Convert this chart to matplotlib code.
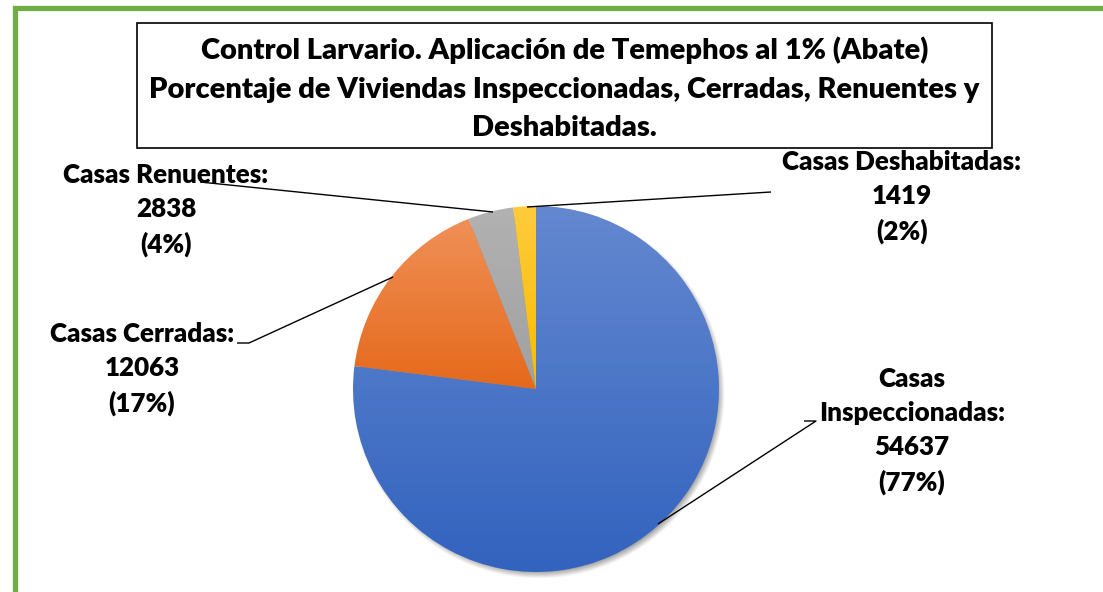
import numpy as np
import matplotlib
matplotlib.use("Agg")
import matplotlib.pyplot as plt
from matplotlib.patches import Rectangle
from matplotlib.colors import to_rgb

plt.rcParams['font.family'] = ['Lato', 'DejaVu Sans']

# data
categorias = ['Casas Inspeccionadas', 'Casas Cerradas', 'Casas Renuentes', 'Casas Deshabitadas']
valores = [54637, 12063, 2838, 1419]
porcentajes = [77, 17, 4, 2]
titulo = ('Control Larvario. Aplicación de Temephos al 1% (Abate)\n'
          'Porcentaje de Viviendas Inspeccionadas, Cerradas, Renuentes y\n'
          'Deshabitadas.')

# gradient colours (top, bottom) per slice
grad = [('#6488d0', '#3263be'),
        ('#f09058', '#e5691b'),
        ('#b2b2b2', '#a0a0a0'),
        ('#ffcb3c', '#f8bc00')]

W, H = 1103, 592
cx, cy, R = 536, 389, 183

fig = plt.figure(figsize=(W / 100, H / 100), dpi=100)
ax = fig.add_axes([0, 0, 1, 1])


def px(x, y):
    # pixel position -> data units (pie radius = 1)
    return (x - cx) / R, (cy - y) / R


# shadow under the pie
gx = np.linspace(-1.2, 1.2, 400)
gy = np.linspace(-1.2, 1.2, 400)
XX, YY = np.meshgrid(gx, gy)
d = np.hypot(XX - 3 / R, YY + 4 / R)
alpha = 0.45 * np.clip((1.0 + 3 / R - d) / (9 / R), 0, 1)
sh = np.zeros((400, 400, 4))
sh[..., 3] = alpha
ax.imshow(sh, extent=(-1.2, 1.2, -1.2, 1.2), origin='lower', zorder=1, interpolation='bilinear')

wedges, _ = ax.pie(valores, startangle=90, counterclock=False, radius=1,
                   wedgeprops=dict(linewidth=0))
for w, (c1, c2) in zip(wedges, grad):
    w.set_facecolor('none')
    w.set_zorder(2)
    bb = w.get_path().get_extents()
    t = np.linspace(0, 1, 256)[:, None]
    img = (1 - t) * np.array(to_rgb(c1)) + t * np.array(to_rgb(c2))
    img = img[:, None, :]
    im = ax.imshow(img, extent=(bb.x0, bb.x1, bb.y0, bb.y1), origin='upper',
                   aspect='auto', zorder=3, interpolation='bilinear')
    im.set_clip_path(w)

ax.set_xlim(-cx / R, (W - cx) / R)
ax.set_ylim(-(H - cy) / R, cy / R)
ax.set_aspect('auto')
ax.axis('off')

# leader lines
lineas = [
    [(804, 421), (816, 421), (658, 524)],
    [(237, 343), (249, 343), (393, 277)],
    [(200, 182), (493, 212)],
    [(771, 192), (527, 207)],
]
for pts in lineas:
    xs, ys = zip(*[px(*p) for p in pts])
    ax.plot(xs, ys, color='black', lw=1, zorder=4, solid_capstyle='butt')

# labels
pos_etiq = [(912, 431), (142, 369), (166, 210), (902, 197)]
for nombre, v, p, (lx, ly) in zip(categorias, valores, porcentajes, pos_etiq):
    if nombre == 'Casas Inspeccionadas':
        txt = 'Casas\nInspeccionadas:\n%d\n(%d%%)' % (v, p)
    else:
        txt = '%s:\n%d\n(%d%%)' % (nombre, v, p)
    x, y = px(lx, ly)
    ax.text(x, y, txt, ha='center', va='center', multialignment='center',
            fontsize=18.7, fontweight='heavy', linespacing=1.5, zorder=5)

# title box
fig.add_artist(Rectangle((137 / W, 1 - 148 / H), (992 - 137) / W, 125 / H,
                         transform=fig.transFigure, fill=False, edgecolor='black', lw=1.2))
fig.text(564.5 / W, 1 - 89 / H, titulo, ha='center', va='center', multialignment='center',
         fontsize=21, fontweight='heavy', linespacing=1.6)

# green frame
fig.add_artist(Rectangle((14.5 / W, -0.2), 1.3, 1.2 - 7.5 / H, transform=fig.transFigure,
                         fill=False, edgecolor='#70ad47', lw=3.8))

fig.savefig('out.png', dpi=100)
